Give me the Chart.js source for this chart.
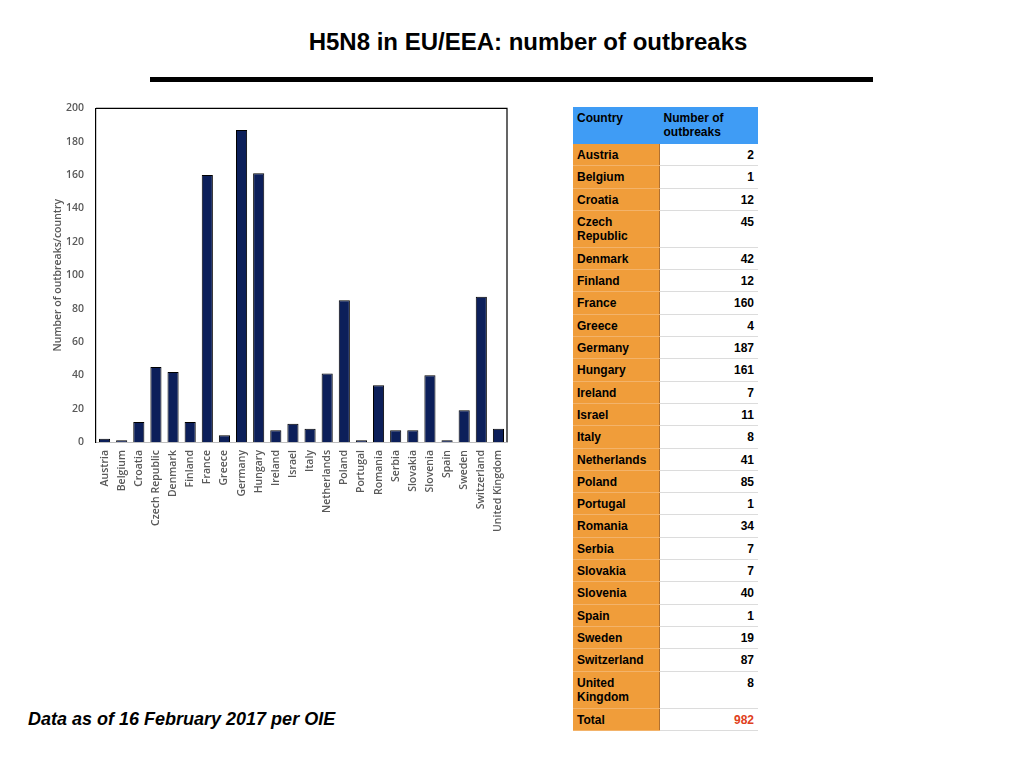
<!DOCTYPE html>
<html>
<head>
<meta charset="utf-8">
<title>H5N8 in EU/EEA: number of outbreaks</title>
<script src="https://cdn.jsdelivr.net/npm/chart.js@4.4.1/dist/chart.umd.min.js"></script>
<style>
    body { margin: 0; background: #fff; width: 1024px; height: 768px; position: relative; overflow: hidden; }
    #title { position: absolute; left: 0; width: 1056px; top: 28px; text-align: center;
             font: bold 24px "Liberation Sans", Arial, sans-serif; color: #000; }
    #rule { position: absolute; left: 150px; top: 77px; width: 723px; height: 5px; background: #000; }
    #wrap { position: absolute; left: 40px; top: 98px; width: 480px; height: 447px; }
    #note { position: absolute; left: 28px; top: 709px;
            font: italic bold 18px "Liberation Sans", Arial, sans-serif; color: #000; }
    #tbl { position: absolute; left: 573px; top: 107px; border-collapse: collapse;
           font: bold 12px "Liberation Sans", Arial, sans-serif; color: #000; }
    #tbl td, #tbl th { padding: 4px 4px 0 4px; vertical-align: top; line-height: 14px; text-align: left; }
    #tbl th { background: #3f9cf5; height: 33px; font-weight: bold; }
    #tbl td.c { background: #f09d3a; width: 78px; border-right: 1px solid #b07030; border-bottom: 1px solid #f3b36a; }
    #tbl td.v { background: #fff; width: 90px; text-align: right; border-bottom: 1px solid #dcdcdc; }
    #tbl td.tot { color: #e04020; }
</style>
</head>
<body>
<div id="title">H5N8 in EU/EEA: number of outbreaks</div>
<div id="rule"></div>
<div id="wrap"><canvas id="chart" width="480" height="447"></canvas></div>
<div id="note">Data as of 16 February 2017 per OIE</div>
<table id="tbl"></table>

<script>
const countries = ['Austria', 'Belgium', 'Croatia', 'Czech Republic', 'Denmark', 'Finland', 'France',
    'Greece', 'Germany', 'Hungary', 'Ireland', 'Israel', 'Italy', 'Netherlands', 'Poland', 'Portugal',
    'Romania', 'Serbia', 'Slovakia', 'Slovenia', 'Spain', 'Sweden', 'Switzerland', 'United Kingdom']
const outbreaks = [2, 1, 12, 45, 42, 12, 160, 4, 187, 161, 7, 11, 8, 41, 85, 1, 34, 7, 7, 40, 1, 19, 87, 8]
const tableNames = ['Austria', 'Belgium', 'Croatia', 'Czech<br>Republic', 'Denmark', 'Finland', 'France',
    'Greece', 'Germany', 'Hungary', 'Ireland', 'Israel', 'Italy', 'Netherlands', 'Poland', 'Portugal',
    'Romania', 'Serbia', 'Slovakia', 'Slovenia', 'Spain', 'Sweden', 'Switzerland', 'United<br>Kingdom']
const total = 982

// table on the right
const tbl = document.getElementById('tbl')
let html = '<tr><th style="width:78px">Country</th><th style="width:90px">Number of<br>outbreaks</th></tr>'
tableNames.forEach((name, i) => {
    const h = name.includes('<br>') ? 32 : 17.3
    html += '<tr><td class="c" style="height:' + h + 'px">' + name + '</td><td class="v">' + outbreaks[i] + '</td></tr>'
})
html += '<tr><td class="c" style="height:17.3px">Total</td><td class="v tot">' + total + '</td></tr>'
tbl.innerHTML = html

// frame on top and right of the plot
const frame = {
    id: 'frame',
    afterDraw(chart) {
        const a = chart.chartArea, ctx = chart.ctx
        ctx.save()
        ctx.strokeStyle = '#000'
        ctx.lineWidth = 1.2
        ctx.beginPath()
        ctx.moveTo(a.left, a.top)
        ctx.lineTo(a.right, a.top)
        ctx.lineTo(a.right, a.bottom)
        ctx.stroke()
        ctx.restore()
    }
}

const tickFont = {family: '"Open Sans", sans-serif', size: 10.5, weight: '600'}

new Chart(document.getElementById('chart'), {
    type: 'bar',
    data: {
        labels: countries,
        datasets: [{
            data: outbreaks,
            backgroundColor: '#0c1f5a',
            borderColor: '#000',
            borderWidth: 1,
            barPercentage: 0.65,
            categoryPercentage: 1.0,
        }]
    },
    options: {
        responsive: false,
        animation: false,
        layout: { padding: {top: 8, right: 13, left: 0, bottom: 0} },
        plugins: {
            legend: { display: false },
            tooltip: { enabled: false },
        },
        scales: {
            x: {
                grid: { display: false },
                border: { color: '#bfbfbf', width: 1 },
                ticks: { color: '#595959', font: tickFont, minRotation: 90, maxRotation: 90, autoSkip: false, padding: 0 },
                afterFit(scale) { scale.height = 103 },
            },
            y: {
                min: 0,
                max: 200,
                grid: { display: false },
                border: { color: '#000', width: 1.2 },
                ticks: { stepSize: 20, color: '#595959', font: tickFont, padding: 4 },
                title: { display: true, text: 'Number of outbreaks/country', color: '#595959', font: tickFont, padding: {top: 12, bottom: 0} },
                afterFit(scale) { scale.width = 56 },
            }
        }
    },
    plugins: [frame]
})
</script>
</body>
</html>
